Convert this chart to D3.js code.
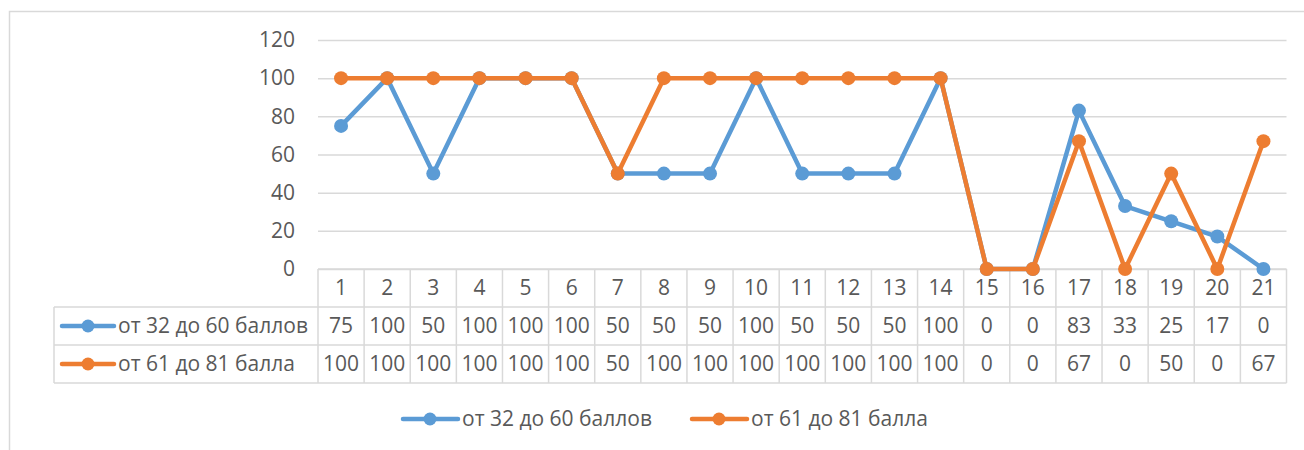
<!DOCTYPE html>
<html>
<head>
<meta charset="utf-8">
<script src="https://cdn.jsdelivr.net/npm/d3@7"></script>
<style>
  body { margin: 0; background: #fff; }
  svg text { font-family: "Open Sans", sans-serif; fill: #595959; }
</style>
</head>
<body>
<div id="chart"></div>
<script>
// данные
const categories = ["1","2","3","4","5","6","7","8","9","10","11","12","13","14","15","16","17","18","19","20","21"];
const seriesNames = ["от 32 до 60 баллов", "от 61 до 81 балла"];
const low = [75,100,50,100,100,100,50,50,50,100,50,50,50,100,0,0,83,33,25,17,0];
const high = [100,100,100,100,100,100,50,100,100,100,100,100,100,100,0,0,67,0,50,0,67];
const yTicks = [0,20,40,60,80,100,120];
const colors = ["#5B9BD5", "#ED7D31"];

const W = 1304, H = 450;
const plot = { left: 318, right: 1286.5, top: 40, bottom: 269 };
const rowH = 38;
const keyLeft = 54;
const fs = 21;

const svg = d3.select("#chart").append("svg")
    .attr("width", W)
    .attr("height", H);

// рамка области диаграммы
svg.append("rect")
    .attr("x", 9.5).attr("y", 11.5)
    .attr("width", 1400).attr("height", 600)
    .attr("fill", "none")
    .attr("stroke", "#D9D9D9")
    .attr("stroke-width", 1.5);

const x = d3.scaleBand()
    .domain(categories)
    .range([plot.left, plot.right]);

const y = d3.scaleLinear()
    .domain([0, 120])
    .range([plot.bottom, plot.top]);

// ось Y с линиями сетки
const yAxis = svg.append("g")
    .attr("transform", `translate(${plot.left},0)`)
    .call(d3.axisLeft(y).tickValues(yTicks).tickSize(-(plot.right - plot.left)).tickPadding(23));
yAxis.select(".domain").remove();
yAxis.selectAll(".tick line")
    .attr("stroke", "#D9D9D9")
    .attr("stroke-width", 1.5);
yAxis.selectAll(".tick text")
    .style("font-size", fs + "px")
    .attr("fill", "#595959");

// таблица данных
const table = svg.append("g");
const gridColor = "#D9D9D9";
const rowTop = i => plot.bottom + i * rowH;

// горизонтальные линии
[0, 1, 2, 3].forEach(i => {
    table.append("line")
        .attr("x1", i === 0 ? plot.left : keyLeft)
        .attr("x2", plot.right)
        .attr("y1", rowTop(i)).attr("y2", rowTop(i))
        .attr("stroke", gridColor).attr("stroke-width", 1.5);
});
// вертикальные линии
table.selectAll(".vline")
    .data(categories.concat(["end"]))
    .enter().append("line")
    .attr("x1", d => d === "end" ? plot.right : x(d))
    .attr("x2", d => d === "end" ? plot.right : x(d))
    .attr("y1", rowTop(0)).attr("y2", rowTop(3))
    .attr("stroke", gridColor).attr("stroke-width", 1.5);
table.append("line")
    .attr("x1", keyLeft).attr("x2", keyLeft)
    .attr("y1", rowTop(1)).attr("y2", rowTop(3))
    .attr("stroke", gridColor).attr("stroke-width", 1.5);

// заголовки столбцов
table.selectAll(".cat")
    .data(categories)
    .enter().append("text")
    .attr("x", d => x(d) + x.bandwidth() / 2)
    .attr("y", rowTop(0) + rowH / 2)
    .attr("dy", "0.35em")
    .attr("text-anchor", "middle")
    .style("font-size", fs + "px")
    .text(d => d);

[low, high].forEach((vals, si) => {
    table.selectAll(".val" + si)
        .data(vals)
        .enter().append("text")
        .attr("x", (d, i) => x(categories[i]) + x.bandwidth() / 2)
        .attr("y", rowTop(si + 1) + rowH / 2)
        .attr("dy", "0.35em")
        .attr("text-anchor", "middle")
        .style("font-size", fs + "px")
        .text(d => d);

    // ключ легенды в таблице
    const ky = rowTop(si + 1) + rowH / 2;
    const k = table.append("g");
    k.append("line")
        .attr("x1", 62).attr("x2", 114)
        .attr("y1", ky).attr("y2", ky)
        .attr("stroke", colors[si]).attr("stroke-width", 4.5)
        .attr("stroke-linecap", "round");
    k.append("circle")
        .attr("cx", 88).attr("cy", ky).attr("r", 6.5)
        .attr("fill", colors[si]);
    k.append("text")
        .attr("x", 118).attr("y", ky)
        .attr("dy", "0.35em")
        .style("font-size", fs + "px")
        .text(seriesNames[si]);
});

// линии рядов
const line = d3.line()
    .x((d, i) => x(categories[i]) + x.bandwidth() / 2)
    .y(d => y(d));

[low, high].forEach((vals, si) => {
    svg.append("path")
        .datum(vals)
        .attr("fill", "none")
        .attr("stroke", colors[si])
        .attr("stroke-width", 4.5)
        .attr("stroke-linejoin", "round")
        .attr("stroke-linecap", "round")
        .attr("d", line);
    svg.selectAll(".dot" + si)
        .data(vals)
        .enter().append("circle")
        .attr("cx", (d, i) => x(categories[i]) + x.bandwidth() / 2)
        .attr("cy", d => y(d))
        .attr("r", 7)
        .attr("fill", colors[si]);
});

// легенда снизу
const legendX = [403, 692];
const ly = 419;
seriesNames.forEach((name, si) => {
    const g = svg.append("g");
    g.append("line")
        .attr("x1", legendX[si]).attr("x2", legendX[si] + 55)
        .attr("y1", ly).attr("y2", ly)
        .attr("stroke", colors[si]).attr("stroke-width", 4.5)
        .attr("stroke-linecap", "round");
    g.append("circle")
        .attr("cx", legendX[si] + 27).attr("cy", ly).attr("r", 6.5)
        .attr("fill", colors[si]);
    g.append("text")
        .attr("x", legendX[si] + 59).attr("y", ly)
        .attr("dy", "0.35em")
        .style("font-size", fs + "px")
        .text(name);
});
</script>
</body>
</html>
